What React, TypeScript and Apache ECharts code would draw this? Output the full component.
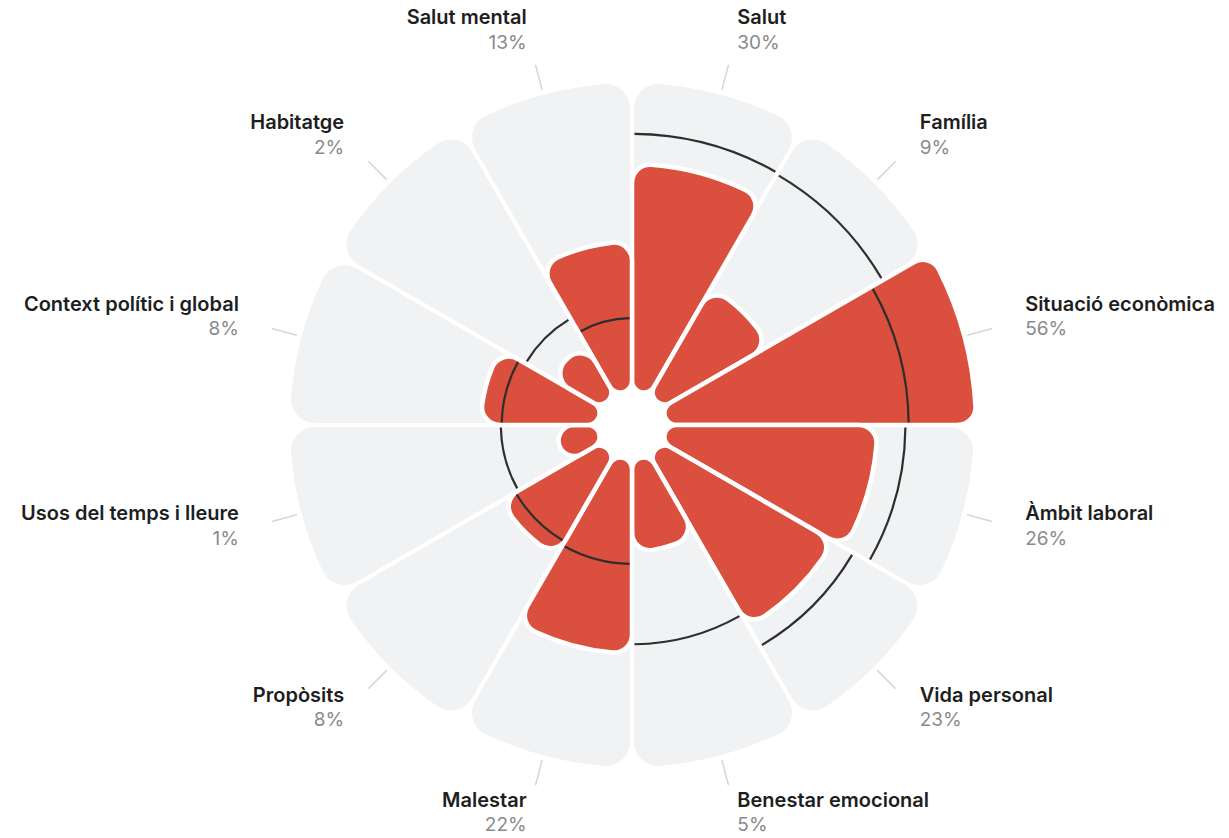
import React, { useEffect, useRef } from "react";
import * as echarts from "echarts";

const categories = [
  "Salut",
  "Família",
  "Situació econòmica",
  "Àmbit laboral",
  "Vida personal",
  "Benestar emocional",
  "Malestar",
  "Propòsits",
  "Usos del temps i lleure",
  "Context polític i global",
  "Habitatge",
  "Salut mental",
];
const currentValues = [30, 9, 56, 26, 23, 5, 22, 8, 1, 8, 2, 13];
const referenceValues = [38.5, 38, 34.3, 33.4, 28.6, 20, 6.4, 5.9, 5.5, 5.4, 4.6, 3.1];
const percentLabels = ["30%", "9%", "56%", "26%", "23%", "5%", "22%", "8%", "1%", "8%", "2%", "13%"];
const maxValue = 56;

const FONT = "Inter, 'Noto Sans', sans-serif";

export default function App() {
  const ref = useRef<HTMLDivElement>(null);
  useEffect(() => {
    if (!ref.current) return;
    const chart = echarts.init(ref.current, undefined, { renderer: "svg" });
    const sq = (v: number) => Math.sqrt(v);
    const option: any = {
      animation: false,
      backgroundColor: "#ffffff",
      polar: { center: [632, 425], radius: [34, 344] },
      angleAxis: {
        type: "category",
        data: categories,
        startAngle: 90,
        clockwise: true,
        axisLine: { show: false },
        axisTick: { show: false },
        axisLabel: { show: false },
        splitLine: { show: false },
      },
      radiusAxis: {
        type: "value",
        min: 0,
        max: sq(maxValue),
        axisLine: { show: false },
        axisTick: { show: false },
        axisLabel: { show: false },
        splitLine: { show: false },
      },
      series: [
        {
          type: "bar",
          coordinateSystem: "polar",
          data: categories.map(() => sq(maxValue)),
          barCategoryGap: "0%",
          barGap: "-100%",
          silent: true,
          z: 1,
          itemStyle: { color: "#f0f2f4", borderColor: "#ffffff", borderWidth: 4, borderRadius: 26 },
        },
        {
          type: "bar",
          coordinateSystem: "polar",
          data: currentValues.map(sq),
          barCategoryGap: "0%",
          barGap: "-100%",
          silent: true,
          z: 2,
          itemStyle: { color: "#da4f3d", borderColor: "#ffffff", borderWidth: 4.5, borderRadius: 18 },
        },
        {
          type: "custom",
          coordinateSystem: "polar",
          silent: true,
          z: 3,
          data: referenceValues.map((v, i) => [sq(v), i]),
          renderItem: (params: any, api: any) => {
            const idx = api.value(1);
            const c = api.coord([api.value(0), idx]);
            const cs = params.coordSys;
            const r = c[2];
            const ang = c[3];
            const half = Math.PI / categories.length;
            const pad = 2.5 / r;
            return {
              type: "arc",
              shape: {
                cx: cs.cx,
                cy: cs.cy,
                r,
                startAngle: -ang - half + pad,
                endAngle: -ang + half - pad,
                clockwise: true,
              },
              style: { stroke: "#2e2e2e", lineWidth: 2.2, fill: null },
            };
          },
        },
        {
          type: "custom",
          coordinateSystem: "polar",
          silent: true,
          z: 4,
          data: categories.map((_, i) => [sq(maxValue), i]),
          renderItem: (params: any, api: any) => {
            const idx = api.value(1);
            const c = api.coord([api.value(0), idx]);
            const cs = params.coordSys;
            const R = c[2];
            const ang = c[3];
            const dx = Math.cos(ang);
            const dy = -Math.sin(ang);
            const p = (rr: number) => [cs.cx + rr * dx, cs.cy + rr * dy];
            const t0 = p(R + 3);
            const t1 = p(R + 29);
            const lp = p(R + 63);
            const ly = lp[1] - 4 - 2 * dy;
            const align = dx > 0 ? "left" : "right";
            return {
              type: "group",
              children: [
                {
                  type: "line",
                  shape: { x1: t0[0], y1: t0[1], x2: t1[0], y2: t1[1] },
                  style: { stroke: "#d6d6d6", lineWidth: 1.5 },
                },
                {
                  type: "text",
                  style: {
                    text: categories[idx],
                    x: lp[0],
                    y: ly - 12.5,
                    align,
                    textAlign: align,
                    verticalAlign: "middle",
                    textVerticalAlign: "middle",
                    font: `600 20px ${FONT}`,
                    fill: "#1e1e1e",
                  },
                },
                {
                  type: "text",
                  style: {
                    text: percentLabels[idx],
                    x: lp[0],
                    y: ly + 12.5,
                    align,
                    textAlign: align,
                    verticalAlign: "middle",
                    textVerticalAlign: "middle",
                    font: `400 19px ${FONT}`,
                    fill: "#8a8a8a",
                  },
                },
              ],
            };
          },
        },
      ],
    };
    chart.setOption(option);
    return () => chart.dispose();
  }, []);
  return (
    <div
      ref={ref}
      style={{ position: "fixed", left: 0, top: 0, width: 1229, height: 838 }}
    />
  );
}
